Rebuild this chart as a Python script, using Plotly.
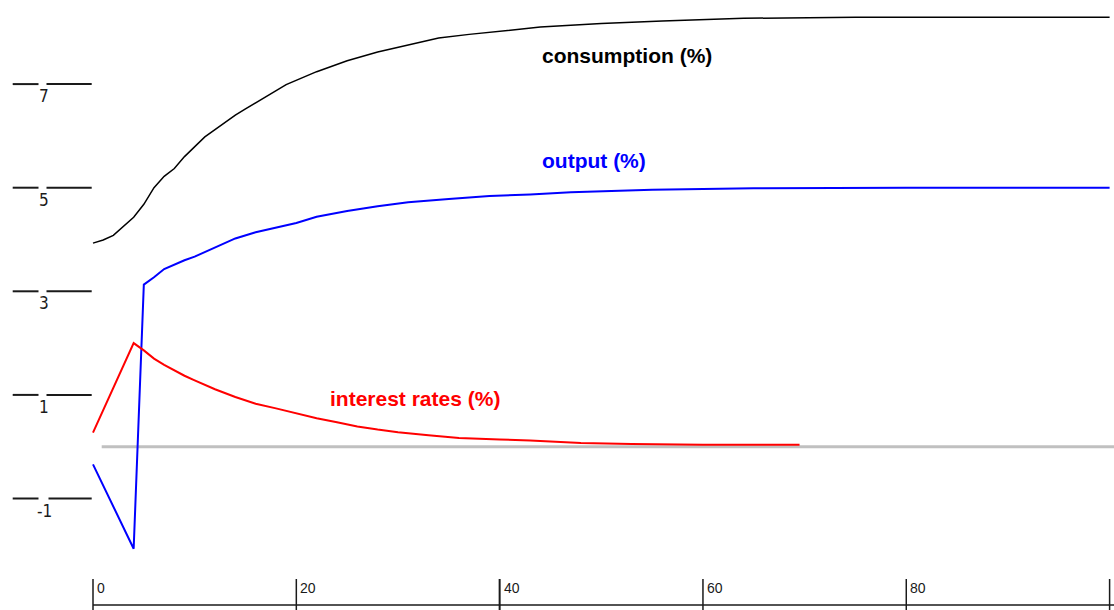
import plotly.graph_objects as go

# ---------------- data ----------------
cons_t = [0, 1, 2, 3, 4, 5, 6, 7, 8, 9, 10, 11, 12, 13, 14, 15, 17, 19, 22, 25, 28, 31, 34, 37, 40, 44, 50, 56, 64, 75, 100]
cons_v = [3.93, 3.99, 4.08, 4.26, 4.43, 4.68, 5.00, 5.22, 5.37, 5.60, 5.80, 5.98, 6.12, 6.26, 6.40, 6.52, 6.76, 6.99, 7.24, 7.45,
          7.62, 7.76, 7.89, 7.96, 8.02, 8.10, 8.17, 8.22, 8.27, 8.29, 8.29]

out_t = [0, 4, 5, 6, 7, 8, 9, 10, 12, 14, 16, 18, 20, 22, 25, 28, 31, 35, 39, 43, 47, 55, 65, 80, 100]
out_v = [-0.34, -1.97, 3.13, 3.27, 3.43, 3.52, 3.60, 3.67, 3.85, 4.02, 4.14, 4.23, 4.32, 4.44, 4.55, 4.64, 4.72, 4.78,
         4.84, 4.87, 4.91, 4.96, 4.99, 5.00, 5.00]

rate_t = [0, 4, 5, 6, 7, 8, 9, 10, 11, 12, 14, 16, 18, 20, 22, 24, 26, 28, 30, 33, 36, 40, 43, 48, 53, 60, 69.5]
rate_v = [0.27, 2.00, 1.86, 1.70, 1.58, 1.47, 1.37, 1.28, 1.19, 1.11, 0.96, 0.83, 0.74, 0.64, 0.55, 0.47, 0.39, 0.33,
          0.28, 0.22, 0.17, 0.14, 0.12, 0.07, 0.05, 0.04, 0.04]

series_names = ["consumption (%)", "output (%)", "interest rates (%)"]
y_ticks = [7, 5, 3, 1, -1]
y_tick_labels = ["7", "5", "3", "1", "-1"]
x_ticks = [0, 20, 40, 60, 80, 100]
x_tick_labels = ["0", "20", "40", "60", "80", "100"]

# ---------------- pixel <-> data mapping ----------------
W, H = 1114, 610
PX0, PXU = 93.0, 10.166      # px of x=0, px per x unit
PY0, PYU = 446.7, 51.8       # px of y=0, px per y unit


def dx(px):
    return (px - PX0) / PXU


def dy(py):
    return (PY0 - py) / PYU


X_RANGE = [dx(0), dx(W)]
Y_RANGE = [dy(H), dy(0)]

fig = go.Figure()
fig.add_trace(go.Scatter(x=cons_t, y=cons_v, mode="lines", line=dict(color="#000000", width=1.5),
                         name=series_names[0], showlegend=False, hoverinfo="skip"))
fig.add_trace(go.Scatter(x=out_t, y=out_v, mode="lines", line=dict(color="#0000ff", width=2),
                         name=series_names[1], showlegend=False, hoverinfo="skip"))
fig.add_trace(go.Scatter(x=rate_t, y=rate_v, mode="lines", line=dict(color="#ff0000", width=2),
                         name=series_names[2], showlegend=False, hoverinfo="skip"))

shapes = []
annotations = []

# zero line
shapes.append(dict(type="line", xref="x", yref="y", x0=dx(101.7), x1=X_RANGE[1], y0=0, y1=0,
                   line=dict(color="#c0c0c0", width=3), layer="below"))

# y ticks: line with a gap and label below the gap
for v, lab in zip(y_ticks, y_tick_labels):
    gap_end = 46.5 if len(lab) == 1 else 48.5
    shapes.append(dict(type="line", xref="x", yref="y", x0=dx(12.7), x1=dx(38.5), y0=v, y1=v,
                       line=dict(color="#1a1a1a", width=2)))
    shapes.append(dict(type="line", xref="x", yref="y", x0=dx(gap_end), x1=dx(91.7), y0=v, y1=v,
                       line=dict(color="#1a1a1a", width=2)))
    annotations.append(dict(x=dx((38.5 + gap_end) / 2 + 1), y=v, xref="x", yref="y", text=lab, showarrow=False,
                            xanchor="center", yanchor="top", yshift=0,
                            font=dict(family="Liberation Sans Narrow, DejaVu Sans Condensed, Liberation Sans",
                                      size=17, color="#1a1a1a")))

# x axis line and ticks
shapes.append(dict(type="line", xref="x", yref="y", x0=0, x1=X_RANGE[1], y0=dy(605), y1=dy(605),
                   line=dict(color="#1a1a1a", width=1.5)))
for v, lab in zip(x_ticks, x_tick_labels):
    shapes.append(dict(type="line", xref="x", yref="y", x0=v, x1=v, y0=dy(579), y1=Y_RANGE[0],
                       line=dict(color="#1a1a1a", width=2 if v == 40 else 1.5)))
    annotations.append(dict(x=v, y=dy(588), xref="x", yref="y", text=lab, showarrow=False,
                            xanchor="left", yanchor="middle", xshift=2,
                            font=dict(family="Liberation Sans", size=14, color="#1a1a1a")))

# series labels
label_font = "Liberation Sans, Arial, sans-serif"
annotations.append(dict(x=dx(540), y=dy(55), xref="x", yref="y", text="<b>%s</b>" % series_names[0],
                        showarrow=False, xanchor="left", yanchor="middle",
                        font=dict(family=label_font, size=21, color="#000000")))
annotations.append(dict(x=dx(540), y=dy(160), xref="x", yref="y", text="<b>%s</b>" % series_names[1],
                        showarrow=False, xanchor="left", yanchor="middle",
                        font=dict(family=label_font, size=21, color="#0000ff")))
annotations.append(dict(x=dx(328), y=dy(398), xref="x", yref="y", text="<b>%s</b>" % series_names[2],
                        showarrow=False, xanchor="left", yanchor="middle",
                        font=dict(family=label_font, size=21, color="#ff0000")))

fig.update_layout(
    width=W, height=H,
    margin=dict(l=0, r=0, t=0, b=0),
    paper_bgcolor="#ffffff", plot_bgcolor="#ffffff",
    xaxis=dict(range=X_RANGE, visible=False, fixedrange=True),
    yaxis=dict(range=Y_RANGE, visible=False, fixedrange=True),
    shapes=shapes, annotations=annotations,
    showlegend=False,
)

fig.write_html("out.html", config={"displayModeBar": False},
               post_script="document.body.style.margin='0px';document.body.style.overflow='hidden';")
